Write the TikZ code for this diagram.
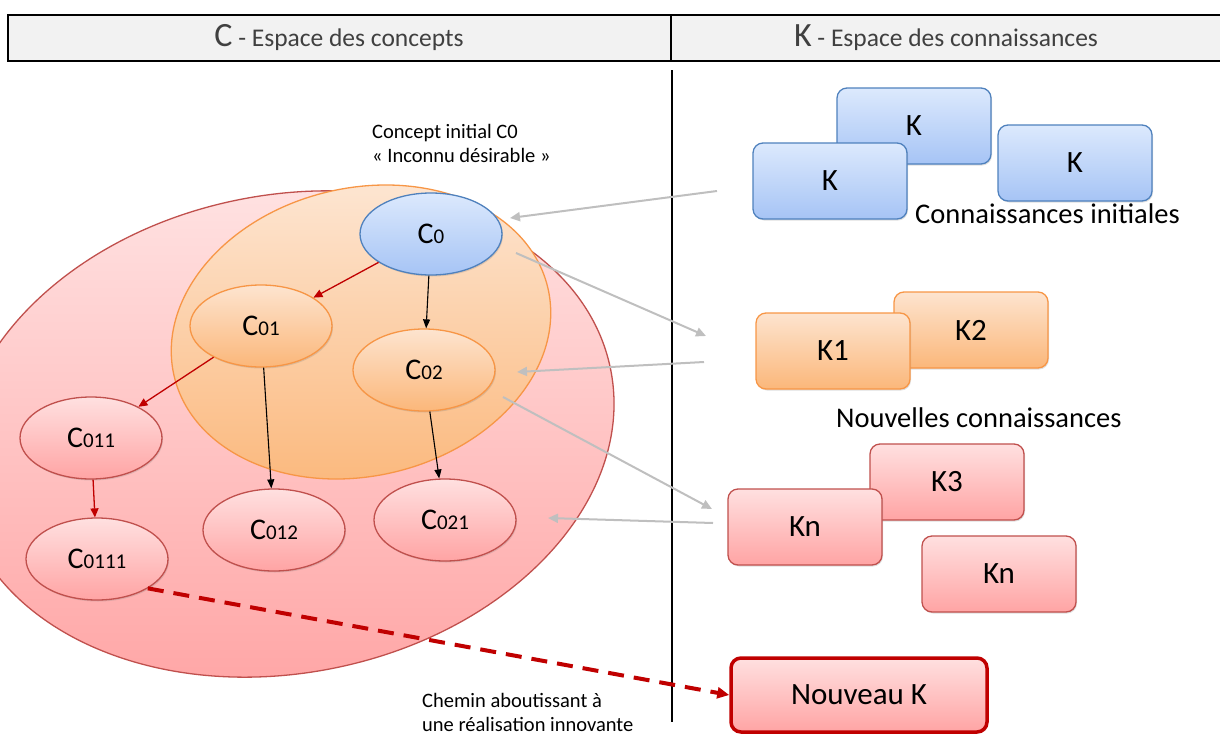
\documentclass[tikz,border=0pt]{standalone}
\usepackage{fontspec}
\setmainfont{Carlito}
\usetikzlibrary{shapes.geometric,arrows.meta,shadows}
\definecolor{bluetop}{HTML}{DCE9FD}
\definecolor{bluebot}{HTML}{A6C4F5}
\definecolor{blueline}{HTML}{4F81BD}
\definecolor{orgtop}{HTML}{FDE4CF}
\definecolor{orgbot}{HTML}{FBB77A}
\definecolor{orgline}{HTML}{F79646}
\definecolor{redtop}{HTML}{FFE0E0}
\definecolor{redbot}{HTML}{FFA4A4}
\definecolor{redline}{HTML}{C0504D}
\definecolor{darkred}{HTML}{C00000}
\definecolor{arrgray}{HTML}{BFBFBF}
\definecolor{hdrfill}{HTML}{F2F2F2}
\definecolor{hdrtext}{HTML}{404040}
\newcommand\cnode[1]{{\fontsize{30}{30}\selectfont C}{\fontsize{21}{21}\selectfont #1}}
\tikzset{
  shad/.style={drop shadow={opacity=0.25,shadow xshift=1pt,shadow yshift=-1.5pt}},
  cell/.style={ellipse,minimum width=142pt,minimum height=82pt,inner sep=0pt,line width=1.3pt,shad},
  cblue/.style={cell,draw=blueline,top color=bluetop,bottom color=bluebot},
  corg/.style={cell,draw=orgline,top color=orgtop,bottom color=orgbot},
  cred/.style={cell,draw=redline,top color=redtop,bottom color=redbot},
  kbox/.style={rectangle,rounded corners=10pt,minimum width=154pt,minimum height=76pt,inner sep=0pt,line width=1.3pt,font=\fontsize{31}{31}\selectfont,shad},
  kblue/.style={kbox,draw=blueline,top color=bluetop,bottom color=bluebot},
  korg/.style={kbox,draw=orgline,top color=orgtop,bottom color=orgbot},
  kred/.style={kbox,draw=redline,top color=redtop,bottom color=redbot},
  redarr/.style={draw=darkred,line width=1.3pt,-{Triangle[length=9pt,width=8pt]},color=darkred},
  blkarr/.style={draw=black,line width=1.1pt,-{Triangle[length=9pt,width=7pt]}},
  grayarr/.style={draw=arrgray,line width=2pt,-{Triangle[length=10pt,width=9pt]}},
  lbl/.style={font=\fontsize{20.5}{24}\selectfont,align=left,inner sep=0pt},
  biglbl/.style={font=\fontsize{28.5}{30}\selectfont,inner sep=0pt},
}
\begin{document}
\begin{tikzpicture}[x=1pt,y=-1pt]
\useasboundingbox (0,0) rectangle (1220,736);
% header
\draw[line width=2pt,fill=hdrfill] (8,15) rectangle (1224,61);
\draw[line width=1.5pt] (671,15) -- (671,61);
\node[text=hdrtext,inner sep=0pt] (hc) at (339,38) {{\fontsize{34}{34}\selectfont C}{\fontsize{25.5}{25.5}\selectfont\ - Espace des concepts}};
\node[text=hdrtext,inner sep=0pt] (hk) at (946,38) {{\fontsize{34}{34}\selectfont K}{\fontsize{25.5}{25.5}\selectfont\ - Espace des connaissances}};
% vertical separator
\draw[line width=2.2pt] (672,70) -- (672,722);
% big ellipses
\draw[draw=redline,line width=1.3pt,top color=redtop,bottom color=redbot,rotate around={11.2:(286,434)}] (286,434) ellipse (331 and 239);
\draw[draw=orgline,line width=1.3pt,top color=orgtop,bottom color=orgbot,rotate around={13.4:(361,332)}] (361,332) ellipse (192 and 144);
% concept nodes
\node[cblue] (c0) at (431,234) {\cnode{0}};
\node[corg] (c01) at (261,326) {\cnode{01}};
\node[corg] (c02) at (424,370) {\cnode{02}};
\node[cred] (c011) at (91,438) {\cnode{011}};
\node[cred] (c0111) at (97,559) {\cnode{0111}};
\node[cred] (c012) at (274,530) {\cnode{012}};
\node[cred] (c021) at (445,520) {\cnode{021}};
% concept arrows
\draw[redarr] (c0) -- (c01);
\draw[blkarr] (c0) -- (c02);
\draw[redarr] (c01) -- (c011);
\draw[blkarr] (c01) -- (c012);
\draw[blkarr] (c02) -- (c021);
\draw[redarr] (c011) -- (c0111);
% labels
\node[lbl,anchor=west] (lc0) at (372,143) {Concept initial C0\\« Inconnu désirable »};
\node[lbl,anchor=west] (lchem) at (422,712) {Chemin aboutissant à\\une réalisation innovante};
% K boxes
\node[kblue] (ktop) at (914,126) {K};
\node[kblue] (kleft) at (830,181) {K};
\node[kblue] (kright) at (1075,163) {K};
\node[biglbl,anchor=west] (lki) at (915,214) {Connaissances initiales};
\node[korg] (k2) at (971,330) {K2};
\node[korg] (k1) at (833,351) {K1};
\node[biglbl,anchor=west] (lnk) at (836,418) {Nouvelles connaissances};
\node[kred] (k3) at (947,482) {K3};
\node[kred] (kn1) at (805,527) {Kn};
\node[kred] (kn2) at (999,574) {Kn};
\node[kbox,draw=darkred,line width=3.5pt,top color=redtop,bottom color=redbot,minimum width=256pt,minimum height=74pt] (nk) at (859,695) {Nouveau K};
% gray arrows
\coordinate (g1s) at (717,191); \coordinate (g1e) at (510,218);
\coordinate (g2s) at (516,253); \coordinate (g2e) at (706,336);
\coordinate (g3s) at (704,362); \coordinate (g3e) at (517,372);
\coordinate (g4s) at (503,397); \coordinate (g4e) at (712,509);
\coordinate (g5s) at (713,523); \coordinate (g5e) at (548,518);
\draw[grayarr] (g1s) -- (g1e);
\draw[grayarr] (g2s) -- (g2e);
\draw[grayarr] (g3s) -- (g3e);
\draw[grayarr] (g4s) -- (g4e);
\draw[grayarr] (g5s) -- (g5e);
% dashed path
\draw[draw=darkred,line width=4pt,dash pattern=on 16pt off 10pt,-{Triangle[length=12pt,width=11pt]},color=darkred] (c0111.-30) -- (nk.west);
\end{tikzpicture}
\end{document}
